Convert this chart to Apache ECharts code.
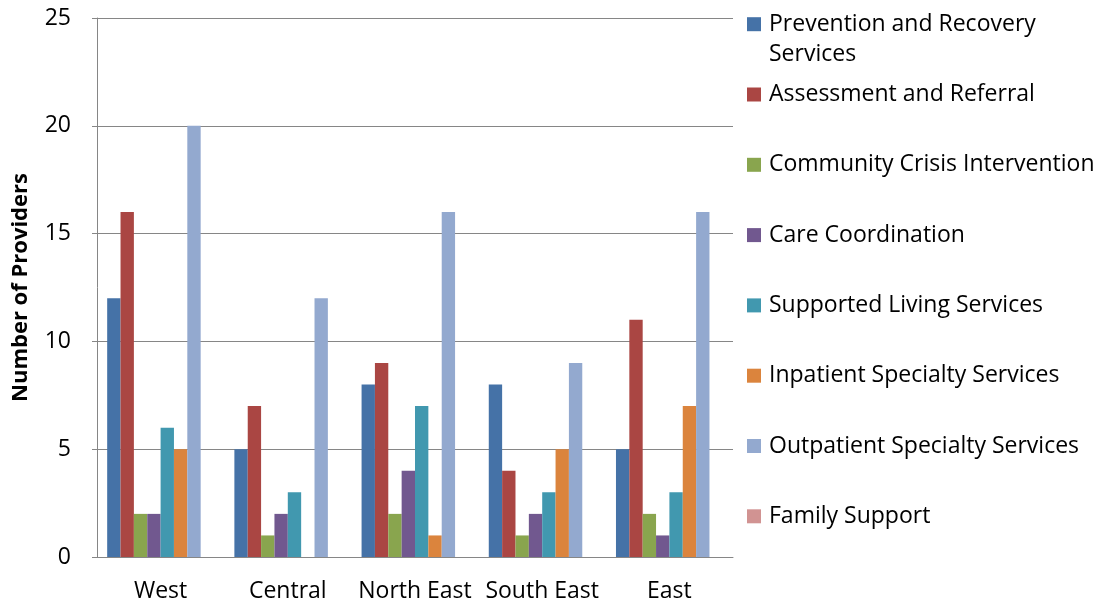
<!DOCTYPE html>
<html>
<head>
<meta charset="utf-8">
<script src="https://cdn.jsdelivr.net/npm/echarts@6/dist/echarts.min.js"></script>
<style>
    html, body { margin: 0; padding: 0; background: #fff; }
    #chart { width: 1103px; height: 607px; }
</style>
</head>
<body>
<div id="chart"></div>
<script>
    // regions on the x axis
    const regions = ['West', 'Central', 'North East', 'South East', 'East'];

    const seriesNames = [
        'Prevention and Recovery Services',
        'Assessment and Referral',
        'Community Crisis Intervention',
        'Care Coordination',
        'Supported Living Services',
        'Inpatient Specialty Services',
        'Outpatient Specialty Services',
        'Family Support'
    ];

    const prevention = [12, 5, 8, 8, 5];
    const assessment = [16, 7, 9, 4, 11];
    const crisis = [2, 1, 2, 1, 2];
    const careCoord = [2, 2, 4, 2, 1];
    const supportedLiving = [6, 3, 7, 3, 3];
    const inpatient = [5, 0, 1, 5, 7];
    const outpatient = [20, 12, 16, 9, 16];
    const familySupport = [0, 0, 0, 0, 0];

    const yTicks = [0, 5, 10, 15, 20, 25];

    const colors = ['#4572A7', '#AA4643', '#89A54E', '#71588F', '#4198AF', '#DB843D', '#93A9CF', '#D19392'];
    const allData = [prevention, assessment, crisis, careCoord, supportedLiving, inpatient, outpatient, familySupport];

    const font = 'Open Sans';
    const fs = 23;

    // one legend block per entry so the spacing matches the original
    const legends = seriesNames.map((name, i) => ({
        data: [name],
        left: 747,
        top: 24.2 + i * 70.3 - 11.5,
        padding: 0,
        itemWidth: 14,
        itemHeight: 14,
        icon: 'rect',
        formatter: n => n === seriesNames[0] ? 'Prevention and Recovery' : n,
        textStyle: {color: '#000', fontSize: fs, fontFamily: font, padding: [0, 0, 0, 3]}
    }));

    const chart = echarts.init(document.getElementById('chart'));
    chart.setOption({
        animation: false,
        color: colors,
        textStyle: {fontFamily: font},
        grid: {left: 97, top: 18, width: 636, height: 539, outerBoundsMode: 'none'},
        legend: legends,
        graphic: [{
            type: 'text',
            x: 769,
            y: 54.5,
            style: {text: 'Services', fill: '#000', font: fs + 'px "Open Sans"', verticalAlign: 'middle'}
        }],
        xAxis: {
            type: 'category',
            data: regions,
            axisLine: {lineStyle: {color: '#868686'}},
            axisTick: {show: false},
            axisLabel: {color: '#000', fontSize: fs, margin: 23, interval: 0}
        },
        yAxis: {
            type: 'value',
            min: yTicks[0],
            max: yTicks[yTicks.length - 1],
            interval: 5,
            name: 'Number of Providers',
            nameLocation: 'middle',
            nameGap: 65,
            nameRotate: 90,
            nameTextStyle: {color: '#000', fontSize: 22, fontWeight: 'bold'},
            axisLine: {show: true, lineStyle: {color: '#868686'}},
            axisTick: {show: true, length: 5, lineStyle: {color: '#868686'}},
            axisLabel: {color: '#000', fontSize: fs, margin: 26},
            splitLine: {lineStyle: {color: '#868686'}}
        },
        series: seriesNames.map((name, i) => ({
            name: name,
            type: 'bar',
            data: allData[i],
            barGap: '0%',
            barCategoryGap: '16%'
        }))
    });
</script>
</body>
</html>
